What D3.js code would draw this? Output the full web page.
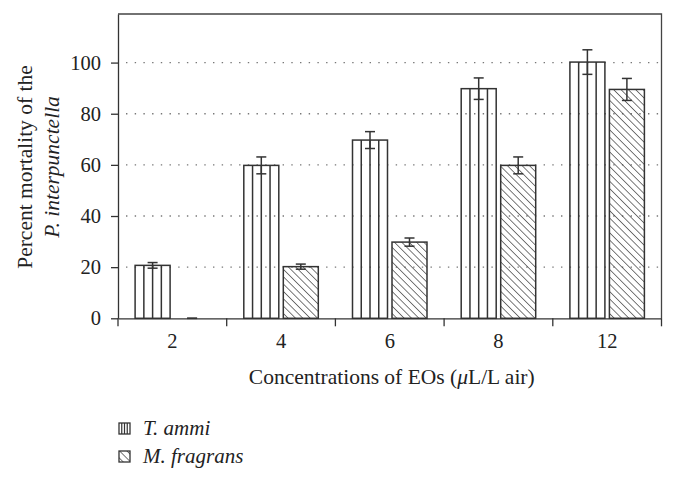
<!DOCTYPE html>
<html><head><meta charset="utf-8">
<script src="https://cdn.jsdelivr.net/npm/d3@7"></script>
<style>body{margin:0;background:#fff}svg{display:block}text{font-family:"Liberation Serif","DejaVu Serif",serif;fill:#222}</style>
</head><body><svg id="c" width="676" height="481"></svg>
<script>
const categories = ["2","4","6","8","12"];
const series = ["T. ammi","M. fragrans"];
const tAmmi = [20.7, 59.8, 69.7, 89.8, 100.2];
const tAmmiErr = [1.1, 3.3, 3.3, 4.2, 4.8];
const mFragrans = [0, 20.2, 29.8, 59.8, 89.5];
const mFragransErr = [0, 1.0, 1.6, 3.3, 4.3];
const yTicks = [0,20,40,60,80,100];
const gridTicks = [20,40,60,80,100];

const svg = d3.select("#c");
const L=118, R=661.5, T=14, B=318.3;
const ink = "#333";
const x0 = d3.scaleBand().domain(categories).range([L,R]).padding(0);
const x1 = d3.scaleBand().domain(series).range([0,x0.bandwidth()]).paddingInner(0.114).paddingOuter(0.433);
const y = d3.scaleLinear().domain([0,119]).range([B,T]);

const defs = svg.append("defs");
const hatch = defs.append("pattern").attr("id","hatch").attr("patternUnits","userSpaceOnUse")
  .attr("width",5.2).attr("height",10).attr("patternTransform","rotate(-45)");
hatch.append("line").attr("x1",0).attr("y1",0).attr("x2",0).attr("y2",10).attr("stroke",ink).attr("stroke-width",1.3);

// grid
svg.append("g").selectAll("line").data(gridTicks).join("line")
  .attr("x1",L+8).attr("x2",R).attr("y1",d=>y(d)).attr("y2",d=>y(d))
  .attr("stroke","#777").attr("stroke-width",1.4).attr("stroke-dasharray","1.4,7.3");

const data = categories.map((c,i)=>({c, vals:[
  {s:series[0], v:tAmmi[i], e:tAmmiErr[i]},
  {s:series[1], v:mFragrans[i], e:mFragransErr[i]}]}));

const groups = svg.append("g").selectAll("g").data(data).join("g")
  .attr("transform",d=>`translate(${x0(d.c)},0)`);
const bars = groups.selectAll("g.bar").data(d=>d.vals).join("g").attr("class","bar");
bars.each(function(d){
  const g = d3.select(this);
  const bx = x1(d.s), bw = x1.bandwidth(), by = y(d.v), bh = B - y(d.v);
  if (d.v <= 0) return;
  if (d.s === series[0]) {
    g.selectAll("line.st").data([1,2,3]).join("line").attr("class","st")
      .attr("x1",k=>bx+k*bw/4).attr("x2",k=>bx+k*bw/4).attr("y1",by).attr("y2",B)
      .attr("stroke",ink).attr("stroke-width",1.5);
    g.append("rect").attr("x",bx).attr("y",by).attr("width",bw).attr("height",bh)
      .attr("fill","none").attr("stroke",ink).attr("stroke-width",1.5);
  } else {
    g.append("rect").attr("x",bx).attr("y",by).attr("width",bw).attr("height",bh)
      .attr("fill","url(#hatch)").attr("stroke",ink).attr("stroke-width",1.5);
  }
});
// error bars
bars.each(function(d){
  const g = d3.select(this);
  const cx = x1(d.s)+x1.bandwidth()/2, cw=5;
  g.append("line").attr("x1",cx).attr("x2",cx).attr("y1",y(d.v-d.e)).attr("y2",y(d.v+d.e)).attr("stroke",ink).attr("stroke-width",1.5);
  [d.v-d.e,d.v+d.e].forEach(v=>g.append("line").attr("x1",cx-cw).attr("x2",cx+cw).attr("y1",y(v)).attr("y2",y(v)).attr("stroke",ink).attr("stroke-width",1.5));
});

// frame
svg.append("path").attr("d",`M${L},${T}H${R}V${B}`).attr("fill","none").attr("stroke","#444").attr("stroke-width",1.3);

// y axis
const ya = svg.append("g").attr("transform",`translate(${L},0)`)
  .call(d3.axisLeft(y).tickValues(yTicks).tickSize(7).tickPadding(10).tickSizeOuter(0));
ya.select(".domain").attr("stroke","#333").attr("stroke-width",1.3);
ya.selectAll(".tick line").attr("stroke","#333").attr("stroke-width",1.3);
ya.selectAll("text").style("font-size","20.5px").attr("fill","#222");

// x axis
const xa = svg.append("g").attr("transform",`translate(0,${B})`)
  .call(d3.axisBottom(x0).tickSize(0).tickPadding(15));
xa.select(".domain").attr("stroke","#333").attr("stroke-width",1.3);
xa.selectAll("text").style("font-size","20.5px").attr("fill","#222");
svg.append("g").selectAll("line").data(categories.map(c=>x0(c)).concat([R])).join("line")
  .attr("x1",d=>d).attr("x2",d=>d).attr("y1",B).attr("y2",B+8).attr("stroke","#333").attr("stroke-width",1.3);

// titles
svg.append("text").attr("x",(L+R)/2+2).attr("y",384).attr("text-anchor","middle").style("font-size","21.5px")
  .html('Concentrations of EOs (<tspan font-style="italic">μ</tspan>L/L air)');
const yt = svg.append("text").attr("transform","translate(0,167) rotate(-90)").attr("text-anchor","middle").style("font-size","21.5px");
yt.append("tspan").attr("x",0).attr("y",32).text("Percent mortality of the");
yt.append("tspan").attr("x",0).attr("y",59).style("font-style","italic").text("P. interpunctella");

// legend
const leg = svg.append("g");
const s1 = leg.append("g").attr("transform","translate(119,423)");
s1.append("rect").attr("width",11).attr("height",11).attr("fill","none").attr("stroke",ink).attr("stroke-width",1.3);
s1.selectAll("line").data([1,2,3]).join("line").attr("x1",k=>k*11/4).attr("x2",k=>k*11/4).attr("y1",0).attr("y2",11).attr("stroke",ink).attr("stroke-width",1.2);
const s2 = leg.append("g").attr("transform","translate(119,451)");
s2.append("rect").attr("width",11).attr("height",11).attr("fill","url(#hatch)").attr("stroke",ink).attr("stroke-width",1.3);
leg.append("text").attr("x",143).attr("y",435).style("font-size","21px").style("font-style","italic").text(series[0]);
leg.append("text").attr("x",143).attr("y",463).style("font-size","21px").style("font-style","italic").text(series[1]);
</script></body></html>
